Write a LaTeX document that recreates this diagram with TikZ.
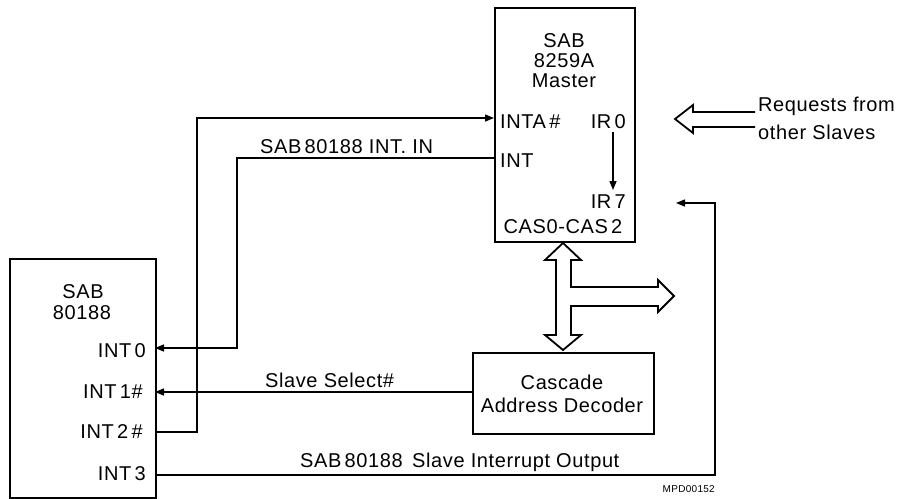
\documentclass[tikz,border=0pt]{standalone}
\usepackage{fontspec}
\setmainfont{Liberation Sans}[LetterSpace=3]
\usetikzlibrary{arrows.meta}
\begin{document}
\begin{tikzpicture}[x=1pt,y=-1pt,
  box/.style={draw,line width=1.8pt,inner sep=0pt,anchor=north west},
  lbl/.style={font=\fontsize{20}{20}\selectfont,inner sep=0pt},
  wire/.style={line width=1.4pt},
  arr/.style={wire,-{Triangle[length=9pt,width=7pt]}},
  hollow/.style={line width=1.8pt,line join=miter}]
\useasboundingbox (0,0) rectangle (901,498);
% boxes
\node[box,minimum width=140pt,minimum height=234pt] (m) at (494,7) {};
\node[box,minimum width=146pt,minimum height=239pt] (c) at (9,258) {};
\node[box,minimum width=181pt,minimum height=81pt] (d) at (472,352) {};
% master texts
\node[lbl,anchor=base] (mt1) at (564,47) {SAB};
\node[lbl,anchor=base] (mt2) at (564,67) {8259A};
\node[lbl,anchor=base] (mt3) at (564,87) {Master};
\node[lbl,anchor=base west] (inta) at (500,128) {INTA\,\#};
\node[lbl,anchor=base west] (intm) at (500,167) {INT};
\node[lbl,anchor=base east] (ir0) at (626,128) {IR\,0};
\node[lbl,anchor=base east] (ir7) at (626,208) {IR\,7};
\node[lbl,anchor=base] (cas) at (563,233) {CAS0-CAS\,2};
\coordinate (ira) at (613,132);
\coordinate (irb) at (613,190);
\draw[arr] (ira) -- (irb);
% cpu texts
\node[lbl,anchor=base] (ct1) at (83,298) {SAB};
\node[lbl,anchor=base] (ct2) at (82,319) {80188};
\node[lbl,anchor=base east] (i0) at (146,357) {INT\,0};
\node[lbl,anchor=base east] (i1) at (143,398) {INT\,1\#};
\node[lbl,anchor=base east] (i2) at (143,438) {INT\,2\,\#};
\node[lbl,anchor=base east] (i3) at (146,480) {INT\,3};
% decoder texts
\node[lbl,anchor=base] (dt1) at (562,389) {Cascade};
\node[lbl,anchor=base] (dt2) at (562,412) {Address Decoder};
% pins
\coordinate (pint0) at (155,348);
\coordinate (pint1) at (155,392);
\coordinate (pint2) at (155,432);
\coordinate (pint3) at (155,475);
\coordinate (pinta) at (494,118);
\coordinate (pintm) at (494,158);
\coordinate (pdec) at (472,392);
\coordinate (pir7) at (676,203);
\coordinate (k1) at (197,0);
\coordinate (k2) at (237,0);
\coordinate (k3) at (715,0);
% wires
\draw[arr] (pint2) -| (k1 |- pinta) -- (pinta);
\draw[arr] (pintm) -| (k2 |- pint0) -- (pint0);
\draw[arr] (pdec) -- (pint1);
\draw[arr] (pint3) -| (k3 |- pir7) -- (pir7);
% wire labels
\node[lbl,anchor=base west] (l1) at (260,153) {SAB\,80188 INT. IN};
\node[lbl,anchor=base west] (l2) at (265,387) {Slave Select\#};
\node[lbl,anchor=base west] (l3) at (300,467) {SAB\,80188\, Slave Interrupt Output};
\node[font=\fontsize{10}{10}\selectfont,inner sep=0pt,anchor=base east] (mpd) at (715,492) {MPD00152};
% requests
\node[lbl,anchor=base west] (rq1) at (758,111) {Requests from};
\node[lbl,anchor=base west] (rq2) at (758,139) {other Slaves};
\draw[hollow] (755,112) -- (693,112) -- (693,105) -- (675,119) -- (693,133) -- (693,127) -- (755,127);
% cascade bus
\draw[hollow] (563,243) -- (581,260) -- (571,260) -- (571,287) -- (658,287) -- (658,280) -- (674,296) -- (658,312) -- (658,306) -- (571,306) -- (571,335) -- (581,335) -- (563,350) -- (545,335) -- (556,335) -- (556,260) -- (545,260) -- cycle;
\end{tikzpicture}
\end{document}
